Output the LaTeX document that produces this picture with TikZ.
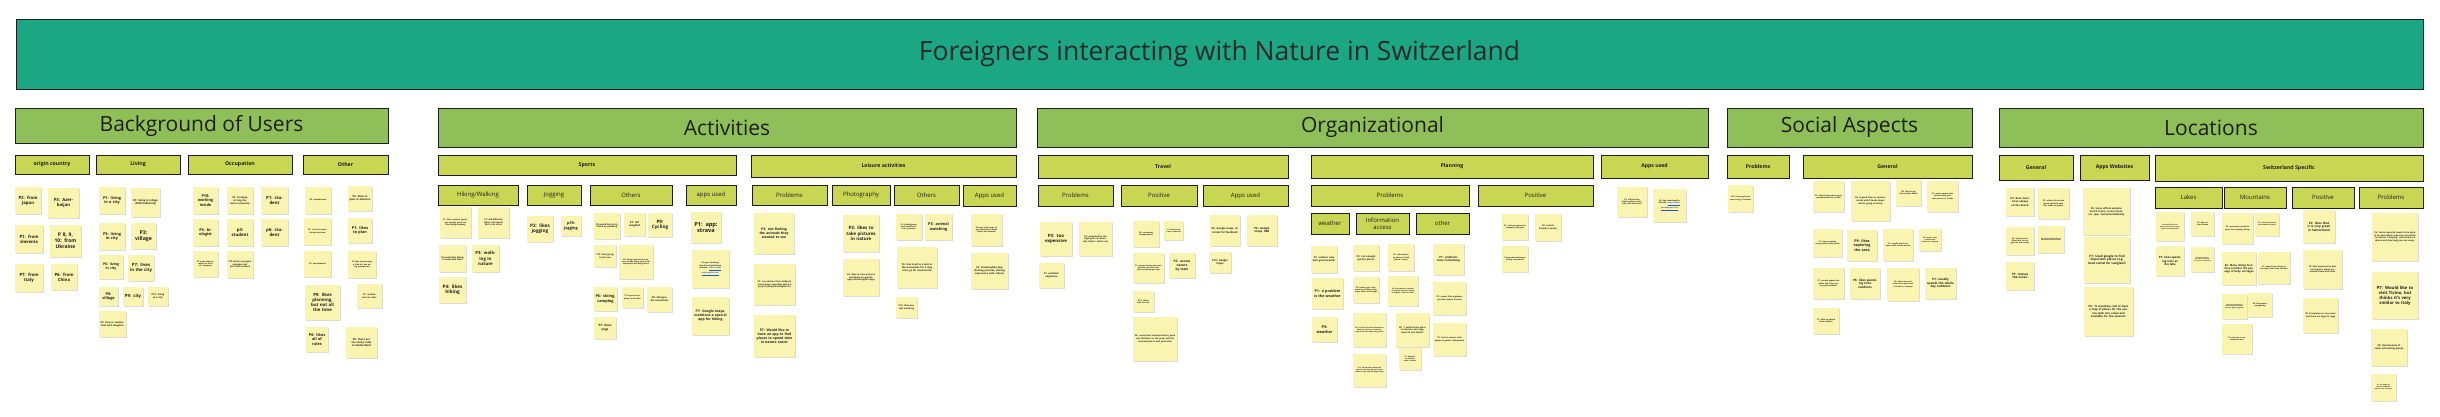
\documentclass[tikz,border=0pt]{standalone}
\usepackage{fontspec}
\setmainfont{Open Sans}
\usetikzlibrary{positioning}
\definecolor{bannerteal}{HTML}{1BA784}
\definecolor{catgreen}{HTML}{8FBF59}
\definecolor{subgreen}{HTML}{C9D654}
\definecolor{notey}{HTML}{F9F4B0}
\definecolor{shadowc}{HTML}{DCDCD2}
\definecolor{inkc}{HTML}{1E1E1E}
\definecolor{titlec}{HTML}{2A2A2A}
\definecolor{linkblue}{HTML}{2A56C6}
\newcounter{nc}
\newcounter{hc}
\newcommand{\lnk}[1]{{\color{linkblue}\underline{#1}}}
\tikzset{
  notebox/.style={fill=notey, inner sep=0pt, align=center, text=inkc},
  bannerbox/.style={fill=bannerteal, draw=inkc, line width=1pt, font=\fontsize{26.5}{30}\selectfont, text=titlec},
  catbox/.style={fill=catgreen, draw=inkc, line width=1pt, font=\fontsize{21}{25}\selectfont, text=inkc},
  subbox/.style={fill=subgreen, draw=inkc, line width=0.9pt, font=\bfseries\fontsize{5.2}{6.2}\selectfont, text=inkc, align=center, inner sep=0pt},
  leafbox/.style={fill=subgreen, draw=inkc, line width=0.9pt, font=\fontsize{6}{7.2}\selectfont, text=inkc, align=center, inner sep=0pt}
}
% header box: style, x1, y1, x2, y2, text
\newcommand{\hdr}[6]{%
  \pgfmathsetmacro{\hw}{#4-#2}\pgfmathsetmacro{\hh}{#5-#3}%
  \pgfmathsetmacro{\hx}{(#2+#4)/2}\pgfmathsetmacro{\hy}{(#3+#5)/2}%
  \stepcounter{hc}%
  \node[#1, minimum width=\hw pt, minimum height=\hh pt] (h\arabic{hc}) at (\hx,\hy) {#6};%
}
% sticky note: x1, y1, x2, y2, font size, text
\newcommand{\snote}[6]{%
  \pgfmathsetmacro{\nw}{#3-#1}\pgfmathsetmacro{\nh}{#4-#2}%
  \pgfmathsetmacro{\nx}{(#1+#3)/2}\pgfmathsetmacro{\ny}{(#2+#4)/2}%
  \pgfmathsetmacro{\tw}{\nw-3}%
  \stepcounter{nc}%
  \fill[shadowc] ({#1+1},{#2+1.2}) rectangle ({#3+1},{#4+1.2});%
  \node[notebox, minimum width=\nw pt, minimum height=\nh pt, text width=\tw pt,
        font=\bfseries\fontsize{#5}{1.2\dimexpr#5pt\relax}\selectfont] (n\arabic{nc}) at (\nx,\ny) {#6};%
}
\begin{document}
\begin{tikzpicture}[x=1pt,y=-1pt]
\useasboundingbox (0,0) rectangle (2440,416);
\fill[white] (0,0) rectangle (2440,416);

% ---------- banner ----------
\hdr{bannerbox}{16}{19}{2423}{89}{Foreigners interacting with Nature in Switzerland}

% ---------- categories ----------
\hdr{catbox}{15}{108}{388}{143}{Background of Users}
\hdr{catbox}{438}{108}{1016}{147}{Activities}
\hdr{catbox}{1037}{108}{1708}{147}{Organizational}
\hdr{catbox}{1727}{108}{1972}{147}{Social Aspects}
\hdr{catbox}{1999}{108}{2423}{147}{Locations}

% ---------- level 2 ----------
\hdr{subbox}{15}{155}{89}{174}{origin country}
\hdr{subbox}{96}{155}{180}{174}{Living}
\hdr{subbox}{188}{155}{292}{174}{Occupation}
\hdr{subbox}{303}{155}{388}{174}{Other}
\hdr{subbox}{438}{155}{736}{175}{Sports}
\hdr{subbox}{751}{155}{1016}{177}{Leisure activities}
\hdr{subbox}{1038}{155}{1288}{178}{Travel}
\hdr{subbox}{1311}{155}{1593}{178}{Planning}
\hdr{subbox}{1601}{155}{1708}{178}{Apps used}
\hdr{subbox}{1727}{155}{1789}{178}{Problems}
\hdr{subbox}{1803}{155}{1972}{178}{General}
\hdr{subbox}{1999}{155}{2073}{180}{General}
\hdr{subbox}{2080}{155}{2149}{180}{Apps Websites}
\hdr{subbox}{2155}{155}{2423}{181}{Switzerland Specific}

% ---------- level 3 ----------
\hdr{leafbox}{438}{185}{518}{205}{Hiking/Walking}
\hdr{leafbox}{527}{185}{581}{205}{Jogging}
\hdr{leafbox}{590}{185}{672}{205}{Others}
\hdr{leafbox}{686}{185}{736}{205}{apps used}
\hdr{leafbox}{752}{185}{827}{205}{Problems}
\hdr{leafbox}{832}{185}{890}{205}{Photography}
\hdr{leafbox}{894}{185}{959}{205}{Others}
\hdr{leafbox}{963}{185}{1016}{206}{Apps used}
\hdr{leafbox}{1038}{185}{1113}{206}{Problems}
\hdr{leafbox}{1121}{185}{1197}{206}{Positive}
\hdr{leafbox}{1203}{185}{1288}{206}{Apps used}
\hdr{leafbox}{1311}{185}{1469}{206}{Problems}
\hdr{leafbox}{1478}{185}{1593}{206}{Positive}
\hdr{leafbox}{2155}{187}{2222}{208}{Lakes}
\hdr{leafbox}{2224}{187}{2286}{208}{Mountains}
\hdr{leafbox}{2292}{187}{2354}{208}{Positive}
\hdr{leafbox}{2359}{187}{2423}{208}{Problems}

% ---------- level 4 ----------
\hdr{leafbox}{1311}{213}{1349}{234}{weather}
\hdr{leafbox}{1356}{213}{1409}{234}{Information\\access}
\hdr{leafbox}{1416}{213}{1469}{234}{other}

% ================= Background of Users =================
\snote{15}{187}{41}{214}{4.3}{P2: from Japan}
\snote{48}{188}{79}{218}{4.3}{P3: Azerbaijan}
\snote{15}{225}{43}{253}{4.3}{P1: from slovenia}
\snote{50}{225}{81}{257}{5}{P 8, 9, 10: from Ukraine}
\snote{15}{264}{43}{292}{4.3}{P7: from Italy}
\snote{51}{264}{77}{290}{4.3}{P6: from China}

\snote{99}{187}{125}{214}{3.8}{P1: living in a city}
\snote{131}{188}{160}{217}{2.6}{P2: living in village (3000 habitants)}
\snote{99}{223}{125}{250}{3.8}{P3: living in city}
\snote{131}{223}{156}{249}{5.2}{P3: village}
\snote{99}{255}{123}{279}{3.4}{P6: living in city}
\snote{128}{255}{154}{281}{4.3}{P7: lives in the city}
\snote{99}{287}{118}{306}{3.8}{P8: village}
\snote{123}{287}{143}{306}{4.3}{P9: city}
\snote{148}{287}{168}{306}{2.4}{P10: living in a city}
\snote{99}{311}{126}{337}{2.4}{P2: lives in switzerland with daughter}

\snote{193}{187}{218}{214}{3.8}{P10: working inside}
\snote{227}{187}{253}{214}{2.4}{P2: studying at long distance university}
\snote{261}{187}{288}{214}{4.3}{P1: student}
\snote{193}{219}{218}{246}{3.8}{P3: biologist}
\snote{227}{219}{253}{246}{4.3}{p3: student}
\snote{261}{219}{288}{246}{4.3}{p6: student}
\snote{193}{251}{218}{277}{1.9}{P7 works indoors, mostly in front of a computer}
\snote{227}{251}{253}{278}{2.2}{P10 works as project manager and part time student}

\snote{305}{187}{331}{214}{2}{P8: spontaneous}
\snote{348}{186}{372}{211}{2.6}{P6: likes to plan in advance}
\snote{304}{218}{331}{245}{2}{P2: not very spontaneous person}
\snote{348}{218}{372}{243}{3.8}{P1: likes to plan}
\snote{304}{251}{331}{277}{2}{P3: spontaneous}
\snote{348}{251}{376}{278}{1.9}{P7 likes pre-planning a little bit, and being spontaneous}
\snote{305}{285}{340}{320}{4.3}{P9: likes planning, but not all the time}
\snote{357}{284}{382}{308}{2.2}{P7: ambivalent on rules}
\snote{306}{327}{328}{352}{3.8}{P6: likes all of rules}
\snote{346}{327}{377}{358}{2.6}{P8: there are too many rules in Switzerland}

% ================= Activities =================
\snote{440}{207}{471}{238}{2}{P1: likes outdoor sports, you usually work out like hiking/climbing}
\snote{478}{207}{509}{238}{2.2}{P7: did different hikes, and would like to do other}
\snote{439}{245}{466}{272}{2.2}{P3 would like hiking to mountain lakes}
\snote{472}{245}{499}{272}{4.3}{P3: walking in nature}
\snote{439}{277}{466}{303}{4.6}{P4: likes hiking}

\snote{527}{216}{553}{242}{4.6}{P2: likes jogging}
\snote{561}{216}{581}{236}{3.8}{p10: jogging}

\snote{594}{213}{620}{239}{2.2}{P3 would like to try 'Stand up paddling'}
\snote{624}{213}{645}{236}{2.6}{P7: did Langlauf}
\snote{648}{213}{672}{237}{4.6}{P9: Cycling}
\snote{594}{245}{616}{267}{2.2}{P10: likes going to the sea}
\snote{619}{245}{653}{279}{1.9}{P6: being connected to nature means being away from everybody and being alone}
\snote{594}{287}{617}{311}{3.8}{P6: skiing, camping}
\snote{622}{287}{643}{308}{1.9}{P7 bicycle tours, plans to do other}
\snote{647}{287}{672}{312}{2.4}{P8: Skiing in the mountains}
\snote{594}{317}{616}{339}{3}{P7: does yoga}

\snote{691}{212}{721}{243}{5.6}{P1: app: strava}
\snote{692}{250}{729}{288}{1.9}{P6 app: XiaoHongShu (Social/publishing) Website: \lnk{https://www.}\\\lnk{xiaohongshu.com/}}
\snote{692}{297}{729}{335}{3.4}{P7: Google maps, mentions a special app for hiking}

\snote{754}{213}{794}{254}{3.4}{P3: not finding the animals they wanted to see}
\snote{754}{264}{795}{305}{2.2}{P3: no reaction from wildpark concerning a question about a project (tierpark/wildpark.ch)}
\snote{754}{315}{795}{357}{3.4}{P7: Would like to have an app to find places to spend time in nature easier}

\snote{843}{215}{879}{252}{4.4}{P3: likes to take pictures in nature}
\snote{843}{259}{879}{296}{2.2}{P6: likes to take pictures and share on specific apps (XiaoHongShu App)}

\snote{896}{214}{922}{240}{1.9}{P2: fishing/picnic (grill outside forest) a passion}
\snote{925}{214}{952}{240}{3.8}{P3: animal watching}
\snote{897}{247}{937}{288}{2.4}{P6: Has lived in a tent in the mountains for a long time; go for mushrooms}
\snote{896}{297}{917}{318}{2.2}{P10: likes animal watching}

\snote{971}{214}{1002}{246}{1.9}{P3 uses online apps to get information about plants and animals}
\snote{971}{253}{1008}{289}{2.4}{P6: XiaoHongShu App (Posting pictures, sharing experience with others)}

% ================= Organizational =================
\snote{1040}{222}{1072}{256}{4.4}{P3: too expensive}
\snote{1079}{222}{1112}{256}{2.2}{P2: surprised by the high price of mountain trains / Cable cars}
\snote{1039}{263}{1064}{288}{2.4}{P1: problem: expensive}

\snote{1133}{221}{1159}{247}{1.9}{P8: convenient transportation}
\snote{1164}{221}{1183}{240}{1.7}{P7: Switzerland is well connected}
\snote{1133}{253}{1164}{283}{1.8}{P1 surprised how good transportation was and how well everything was kept}
\snote{1169}{253}{1195}{278}{3.2}{P2: access nature by train}
\snote{1133}{291}{1154}{312}{2}{P10: takes bus or train}
\snote{1133}{317}{1177}{361}{2.2}{P6: convenient transportation; good rest facilities on the road; natural environment is well protected}

\snote{1210}{215}{1240}{246}{2.6}{P2: Google maps, internet for feedback}
\snote{1247}{215}{1277}{246}{2.8}{P6: Google maps, SBB}
\snote{1209}{252}{1231}{273}{2.6}{P10: Google maps}

\snote{1311}{246}{1337}{273}{2.4}{P3: outdoor only with good weather}
\snote{1312}{278}{1343}{309}{3.6}{P1: a problem is the weather}
\snote{1312}{317}{1337}{342}{3.8}{P3: weather}

\snote{1353}{245}{1379}{271}{2.4}{P2: not enough (picnic) places}
\snote{1388}{244}{1414}{271}{1.9}{P6: information on where to find places is hard}
\snote{1353}{277}{1379}{303}{1.9}{P3: hard to get information on hiking, how to get there from maps}
\snote{1388}{276}{1418}{306}{1.7}{P6: information is mostly in German and not always in English, "hard to know"}
\snote{1353}{313}{1386}{347}{1.7}{P6: Couldn't find the information about the places in advance, only found out when being there}
\snote{1396}{313}{1429}{347}{2.2}{P8: "I selected the place in advance and organized all the details"}
\snote{1353}{354}{1386}{387}{1.7}{P10: information about the place is missing, doesn't know where to go, only through locals}
\snote{1399}{348}{1421}{370}{1.7}{P3: depends on weather, need to check}

\snote{1433}{244}{1464}{275}{2.8}{P1: problem: time consuming}
\snote{1433}{282}{1466}{315}{2}{P2: cannot fish anywhere you like (need a license)}
\snote{1433}{323}{1466}{356}{2}{P7: Gets in contact with people to gather information}

\snote{1502}{214}{1528}{240}{1.9}{P2: rules are generous compared to Japan}
\snote{1535}{214}{1561}{241}{2.2}{P2: tourist friendly country}
\snote{1502}{246}{1528}{272}{1.8}{P6 searched challenges finding information}

\snote{1617}{187}{1647}{217}{1.9}{P2: official sites (high quality translation, well informed)}
\snote{1653}{189}{1686}{222}{1.9}{P6: App XiaoHongShu Website: \lnk{https://www.}\\\lnk{xiaohongshu.com/}}

% ================= Social Aspects =================
\snote{1728}{185}{1753}{212}{1.8}{P10: find people with same energy / finances}

\snote{1813}{181}{1844}{212}{1.9}{P2: asks friends about good recommendations to hike}
\snote{1851}{181}{1890}{221}{2.2}{P6: A good time to communicate with friends about what's going on lately}
\snote{1896}{180}{1921}{206}{2}{P8: likes to go into nature alone}
\snote{1927}{181}{1958}{212}{1.8}{P7: mostly spends time outside along with other person or friends}
\snote{1813}{229}{1842}{257}{1.9}{P1: time in nature mostly with family (kids)}
\snote{1847}{230}{1877}{261}{3.6}{P9: likes exploring the area}
\snote{1883}{229}{1913}{261}{1.9}{P1: usually went outdoors with a swiss native}
\snote{1919}{229}{1941}{251}{1.7}{P8: spends time outside with friends or company}
\snote{1813}{268}{1844}{299}{1.9}{P7: usually spends the whole day if the person goes outdoors}
\snote{1850}{268}{1880}{299}{3}{P6: likes spending time outdoors}
\snote{1887}{268}{1919}{301}{1.8}{P8: both alone and with others (girlfriend / friends) in company}
\snote{1925}{268}{1956}{299}{3}{P3: usually spends the whole day outdoors}
\snote{1813}{308}{1839}{334}{2}{P1: likes to spend time outdoor}

% ================= Locations =================
\snote{2006}{188}{2034}{216}{2.6}{P2: Best memories always on the beach}
\snote{2038}{188}{2069}{219}{2}{P2: misses the ocean (grew up/lived near the ocean in Japan)}
\snote{2006}{227}{2034}{255}{1.9}{P3: interested in lakes (but not as good as the ocean)}
\snote{2038}{226}{2064}{253}{1.6}{P7: likes mainly lakes of Switzerland (Swiss lakes)}
\snote{2006}{262}{2034}{290}{3}{P7: misses the ocean}

\snote{2083}{188}{2130}{235}{2.4}{P6: Some official website: Zurich Event, Lucern Event, etc. App: SwitzerlandMobility}
\snote{2084}{237}{2130}{283}{3}{P7: Used google to find important places (e.g. boat rental for Langlauf)}
\snote{2084}{287}{2133}{336}{2.7}{P8: "It would be cool to have a map of places for the canton with nice views and available for the seasons"}

\snote{2156}{212}{2184}{241}{1.6}{P3 would like to explore more of the mountains/ mountain lakes}
\snote{2191}{212}{2214}{236}{1.8}{P2: Blausee Lake Geneva}
\snote{2156}{246}{2184}{276}{2.8}{P7: likes spending time at the lake}
\snote{2191}{247}{2214}{272}{1.4}{P3: lakes (Thuner / Brienzer) are beautiful, good for swimming}

\snote{2222}{213}{2253}{244}{1.9}{P3: mountains would be great for camping, hiking}
\snote{2255}{213}{2279}{236}{1.7}{P2: swiss mountains are famous in Japan}
\snote{2222}{252}{2256}{285}{2.6}{P6: Many hiking facilities consider the passage of baby carriages}
\snote{2258}{252}{2290}{284}{1.9}{P7: Spend time hiking in the alps, from town to town}
\snote{2222}{294}{2247}{319}{1.5}{P8 tops to see the famous mountains (Matterhorn, Eiger, Jungfrau)}
\snote{2248}{293}{2272}{317}{1.9}{P8: Mountains, paragliding}
\snote{2222}{324}{2252}{354}{1.7}{P3: planning to visit mountain lakes}

\snote{2303}{210}{2335}{243}{3}{P2: likes that it is very green in Switzerland}
\snote{2303}{250}{2342}{289}{2.1}{P7: Was surprised by how much green places are around rivers and lakes}
\snote{2303}{298}{2338}{333}{2.1}{P8: Everywhere is very clean and there are bags for dogs}

\snote{2372}{213}{2418}{261}{2.2}{P6: Some research needs to be done to be sure which areas are accessible to visitors. Camping: restrictions on where and how long you can camp.}
\snote{2372}{272}{2418}{319}{4.2}{P7: Would like to visit Ticino, but thinks it's very similar to Italy}
\snote{2371}{329}{2407}{366}{2.4}{P8: Remoteness of some interesting places}
\snote{2371}{374}{2396}{401}{1.6}{P3: so many options in different parts of the country?}
\end{tikzpicture}
\end{document}
